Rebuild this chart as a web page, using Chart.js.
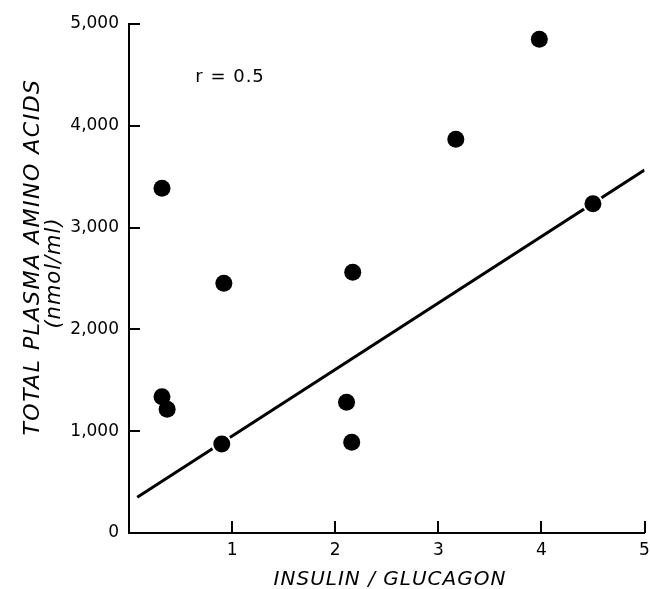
<!DOCTYPE html>
<html>
<head>
<meta charset="utf-8">
<script src="https://cdn.jsdelivr.net/npm/chart.js@4.4.1/dist/chart.umd.min.js"></script>
<style>
  html, body { margin: 0; padding: 0; background: #fff; overflow: hidden; }
  #wrap { width: 655px; height: 589px; position: relative; }
</style>
</head>
<body>
<div id="wrap"><canvas id="c"></canvas></div>
<script>
// insulin/glucagon ratio vs total plasma amino acids (nmol/ml)
const ratio = [0.32, 0.32, 0.37, 0.90, 0.92, 2.11, 2.16, 2.17, 3.17, 3.98, 4.50];
const amino = [3386, 1339, 1215, 874, 2453, 1284, 891, 2561, 3867, 4850, 3235];
// regression line end points
const fitX = [0.08, 5.0];
const fitY = [351, 3566];
const xTicks = [1, 2, 3, 4, 5];
const yTicks = [0, 1000, 2000, 3000, 4000, 5000];
const rLabel = 'r = 0.5';

const pts = ratio.map((x, i) => ({x: x, y: amino[i]}));
const fit = fitX.map((x, i) => ({x: x, y: fitY[i]}));

const FONT = 'DejaVu Sans';

const extras = {
  id: 'extras',
  afterDraw(chart) {
    const ctx = chart.ctx, xs = chart.scales.x, ys = chart.scales.y, a = chart.chartArea;
    ctx.save();
    ctx.strokeStyle = '#000';
    ctx.lineWidth = 2;
    // inward tick marks
    yTicks.forEach(v => {
      if (v === 0) return;
      const y = Math.round(ys.getPixelForValue(v));
      ctx.beginPath(); ctx.moveTo(a.left, y); ctx.lineTo(a.left + 11, y); ctx.stroke();
    });
    xTicks.forEach(v => {
      const x = Math.round(xs.getPixelForValue(v));
      ctx.beginPath(); ctx.moveTo(x, a.bottom); ctx.lineTo(x, a.bottom - 12); ctx.stroke();
    });
    ctx.fillStyle = '#000';
    ctx.textAlign = 'center';
    ctx.textBaseline = 'middle';
    // x title
    ctx.font = 'oblique 20px ' + FONT;
    ctx.letterSpacing = '1px';
    ctx.fillText('INSULIN / GLUCAGON', 390, 580);
    // y title, two lines
    ctx.save();
    ctx.translate(33, 257);
    ctx.rotate(-Math.PI / 2);
    ctx.font = 'oblique 22px ' + FONT;
    ctx.letterSpacing = '1.5px';
    ctx.fillText('TOTAL PLASMA AMINO ACIDS', 0, 0);
    ctx.restore();
    ctx.save();
    ctx.translate(55, 273);
    ctx.rotate(-Math.PI / 2);
    ctx.font = 'oblique 21px ' + FONT;
    ctx.letterSpacing = '1px';
    ctx.fillText('(nmol/ml)', 0, 0);
    ctx.restore();
    // correlation note
    ctx.font = '18px ' + FONT;
    ctx.letterSpacing = '1px';
    ctx.fillText(rLabel, xs.getPixelForValue(0.98), ys.getPixelForValue(4480));
    ctx.restore();
  }
};

new Chart(document.getElementById('c'), {
  type: 'scatter',
  data: {
    datasets: [
      {label: 'points', data: pts, pointRadius: 8.5, pointHoverRadius: 8.5,
       backgroundColor: '#000', borderWidth: 0, order: 1},
      {label: 'halo', data: pts, pointRadius: 10.5, pointHoverRadius: 10.5,
       backgroundColor: '#fff', borderWidth: 0, order: 2},
      {label: 'fit', type: 'line', data: fit, showLine: true, borderColor: '#000',
       borderWidth: 3, pointRadius: 0, fill: false, order: 3}
    ]
  },
  options: {
    responsive: true,
    maintainAspectRatio: false,
    animation: false,
    layout: {padding: {top: 24, right: 0, left: 0, bottom: 0}},
    plugins: {legend: {display: false}, tooltip: {enabled: false}},
    scales: {
      x: {
        type: 'linear', min: 0, max: 5,
        afterBuildTicks: s => { s.ticks = xTicks.map(v => ({value: v})); },
        afterFit: s => { s.height = 56; },
        grid: {display: false, drawTicks: true, tickLength: 7},
        border: {display: true, color: '#000', width: 2},
        ticks: {color: '#000', padding: 0, font: {family: FONT, size: 17},
                callback: v => String(v)}
      },
      y: {
        type: 'linear', min: 0, max: 5000,
        afterBuildTicks: s => { s.ticks = yTicks.map(v => ({value: v})); },
        afterFit: s => { s.width = 129; },
        grid: {display: false, drawTicks: false},
        border: {display: true, color: '#000', width: 2},
        ticks: {color: '#000', padding: 10, font: {family: FONT, size: 17},
                callback: v => v.toLocaleString('en-US')}
      }
    }
  },
  plugins: [extras]
});
</script>
</body>
</html>
